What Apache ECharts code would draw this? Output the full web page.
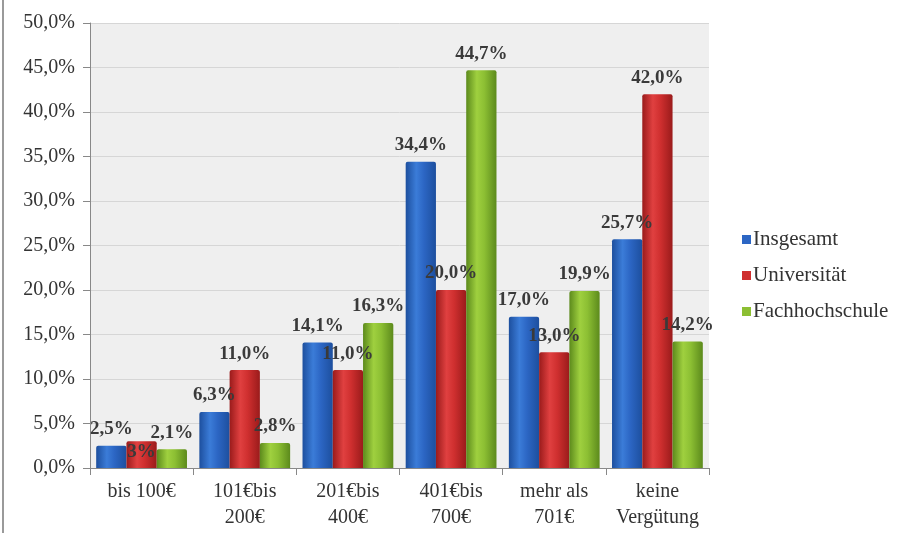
<!DOCTYPE html>
<html>
<head>
<meta charset="utf-8">
<script src="https://cdn.jsdelivr.net/npm/echarts@6/dist/echarts.min.js"></script>
<style>
  html, body { margin: 0; padding: 0; background: #ffffff; }
  #chart { width: 913px; height: 533px; }
</style>
</head>
<body>
<div id="chart"></div>
<script>
// Monthly pay brackets and shares per group (percent)
const categories = ['bis 100€', '101€bis\n200€', '201€bis\n400€', '401€bis\n700€', 'mehr als\n701€', 'keine\nVergütung'];
const seriesNames = ['Insgesamt', 'Universität', 'Fachhochschule'];
const insgesamt = [2.5, 6.3, 14.1, 34.4, 17.0, 25.7];
const universitaet = [3, 11.0, 11.0, 20.0, 13.0, 42.0];
const fachhochschule = [2.1, 2.8, 16.3, 44.7, 19.9, 14.2];
const yTicks = { min: 0, max: 50, interval: 5 };

const fmt = v => (Number.isInteger(v) && v !== 0 && v < 5 ? String(v) : v.toFixed(1).replace('.', ',')) + '%';
const tickFmt = v => v.toFixed(1).replace('.', ',') + '%';

// Shaded bar fills: darker edges, lighter centre
function shade(edge, mid, light) {
  return {
    type: 'linear', x: 0, y: 0, x2: 1, y2: 0,
    colorStops: [
      { offset: 0, color: edge },
      { offset: 0.35, color: light },
      { offset: 0.6, color: mid },
      { offset: 1, color: edge }
    ]
  };
}
const fills = [
  shade('#1d4f9e', '#2c66c4', '#3b7cd8'),
  shade('#9a1b1b', '#cf2f2f', '#e04040'),
  shade('#5c8a1c', '#8cbf33', '#9fd03f')
];
const legendColors = ['#2c66c4', '#cf2f2f', '#8cbf33'];

const serif = '"Liberation Serif", "DejaVu Serif", serif';
const labelStyle = {
  show: true,
  position: 'top',
  distance: 7,
  fontFamily: serif,
  fontSize: 19,
  fontWeight: 'bold',
  color: '#3a3a3a',
  formatter: p => fmt(p.value)
};

function makeSeries(name, values, idx) {
  return {
    name: name,
    type: 'bar',
    barGap: '0%',
    barCategoryGap: '12%',
    itemStyle: { color: fills[idx], borderRadius: [2, 2, 0, 0] },
    label: labelStyle,
    data: values.map((v, i) => {
      // the small first-bracket university value sits inside its bar
      if (idx === 1 && i === 0) {
        return { value: v, label: { position: 'insideTop', distance: 1 } };
      }
      return v;
    })
  };
}

const chart = echarts.init(document.getElementById('chart'), null, { renderer: 'canvas' });
chart.setOption({
  animation: false,
  backgroundColor: '#ffffff',
  textStyle: { fontFamily: serif },
  graphic: [
    { type: 'rect', shape: { x: 2, y: 0, width: 2, height: 533 }, style: { fill: '#9a9a9a' } }
  ],
  grid: {
    left: 90, right: 204, top: 23, bottom: 65,
    show: true, backgroundColor: '#efefef', borderWidth: 0
  },
  legend: {
    orient: 'vertical',
    left: 737, top: 224,
    itemWidth: 9, itemHeight: 9, itemGap: 15,
    icon: 'rect',
    data: seriesNames.map((n, i) => ({ name: n, itemStyle: { color: legendColors[i] } })),
    textStyle: { fontFamily: serif, fontSize: 21, color: '#333', padding: [0, 0, 0, -3] }
  },
  xAxis: {
    type: 'category',
    data: categories,
    axisLine: { lineStyle: { color: '#888', width: 1 } },
    axisTick: { show: true, length: 7, lineStyle: { color: '#888' } },
    axisLabel: {
      interval: 0, hideOverlap: false,
      fontFamily: serif, fontSize: 20, color: '#333', lineHeight: 26, margin: 11
    }
  },
  yAxis: {
    type: 'value',
    min: yTicks.min, max: yTicks.max, interval: yTicks.interval,
    axisLine: { show: true, lineStyle: { color: '#888', width: 1 } },
    axisTick: { show: true, length: 7, lineStyle: { color: '#888' } },
    splitLine: { lineStyle: { color: '#d6d6d6', width: 1 } },
    axisLabel: { fontFamily: serif, fontSize: 20, color: '#333', margin: 15, formatter: tickFmt }
  },
  series: [
    makeSeries(seriesNames[0], insgesamt, 0),
    makeSeries(seriesNames[1], universitaet, 1),
    makeSeries(seriesNames[2], fachhochschule, 2)
  ]
});
</script>
</body>
</html>
